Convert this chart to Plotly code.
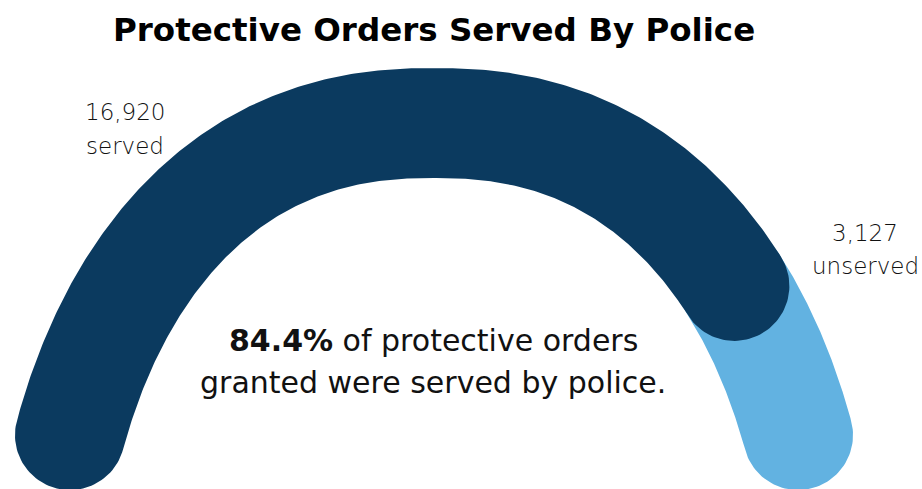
import numpy as np
import plotly.graph_objects as go

# ---- data ----
categories = ["served", "unserved"]
values = [16920, 3127]
label_numbers = ["16,920", "3,127"]
colors = ["#0B3A5F", "#62B2E1"]
title_text = "Protective Orders Served By Police"

total = sum(values)
frac = values[0] / total
pct_text = f"{frac*100:.1f}%"

# ---- geometry of the gauge (screen pixels, y downward) ----
W, H = 922, 489
cx, cy, rx, ry, pw = 434, 693, 393, 570, 2.3   # super-ellipse centre line
half_w = 55
end_v = 0.4526                                   # where the gauge ends (fraction of ry)
t0 = np.arcsin(end_v ** (pw / 2))

# dense centre line from left end to right end
tt = np.linspace(np.pi - t0, t0, 6000)
c = np.cos(tt)
X = cx + rx * np.sign(c) * np.abs(c) ** (2 / pw)
Y = cy - ry * np.abs(np.sin(tt)) ** (2 / pw)
S = np.concatenate([[0], np.cumsum(np.hypot(np.diff(X), np.diff(Y)))])
s_total = S[-1]
s_split = frac * s_total


def band(sa, sb, n=300):
    s = np.linspace(sa, sb, n)
    x = np.interp(s, S, X)
    y = np.interp(s, S, Y)
    dx = np.gradient(x)
    dy = np.gradient(y)
    L = np.hypot(dx, dy)
    tx, ty = dx / L, dy / L
    nx, ny = -ty, tx
    s1x, s1y = x + half_w * nx, y + half_w * ny
    s2x, s2y = x - half_w * nx, y - half_w * ny
    phi_e = np.arctan2(ny[-1], nx[-1]) - np.linspace(0, np.pi, 60)
    ecx = x[-1] + half_w * np.cos(phi_e)
    ecy = y[-1] + half_w * np.sin(phi_e)
    phi_s = np.arctan2(ny[0], nx[0]) + np.pi - np.linspace(0, np.pi, 60)
    scx = x[0] + half_w * np.cos(phi_s)
    scy = y[0] + half_w * np.sin(phi_s)
    px = np.concatenate([s1x, ecx, s2x[::-1], scx])
    py = np.concatenate([s1y, ecy, s2y[::-1], scy])
    return px, py


fig = go.Figure()
segs = [(0, s_split), (s_split, s_total)]
for i in [1, 0]:          # unserved (light) first, served (dark) on top
    px, py = band(*segs[i])
    fig.add_trace(go.Scatter(
        x=px, y=py, mode="lines", fill="toself",
        fillcolor=colors[i], line=dict(width=0, color=colors[i]),
        hoverinfo="skip", showlegend=False, name=categories[i]))

FONT = "DejaVu Sans, Verdana, sans-serif"
label_font = dict(family=FONT, size=23, color="#111111", weight=300)
annotations = [
    dict(x=125, y=112, text=label_numbers[0]),
    dict(x=125, y=146, text=categories[0]),
    dict(x=865, y=233, text=label_numbers[1]),
    dict(x=865, y=266, text=categories[1]),
]
for a in annotations:
    a.update(xref="x", yref="y", showarrow=False, font=label_font,
             xanchor="center", yanchor="middle")

center_font = dict(family=FONT, size=30, color="#111111", weight=400)
annotations += [
    dict(x=433, y=340, text=f"<b>{pct_text}</b> of protective orders"),
    dict(x=433, y=382, text="granted were served by police."),
]
for a in annotations[4:]:
    a.update(xref="x", yref="y", showarrow=False, font=center_font,
             xanchor="center", yanchor="middle")

annotations.append(dict(
    x=434, y=30, xref="x", yref="y", text=f"<b>{title_text}</b>", showarrow=False,
    font=dict(family=FONT, size=32.5, color="#000000"),
    xanchor="center", yanchor="middle"))

fig.update_layout(
    width=W, height=H,
    margin=dict(l=0, r=0, t=0, b=0),
    paper_bgcolor="white", plot_bgcolor="white",
    xaxis=dict(range=[0, W], visible=False, fixedrange=True),
    yaxis=dict(range=[H, 0], visible=False, fixedrange=True),
    annotations=annotations,
)

fig.write_html("out.html", config={"displayModeBar": False},
               post_script="document.body.style.margin='0';document.body.style.overflow='hidden';")
